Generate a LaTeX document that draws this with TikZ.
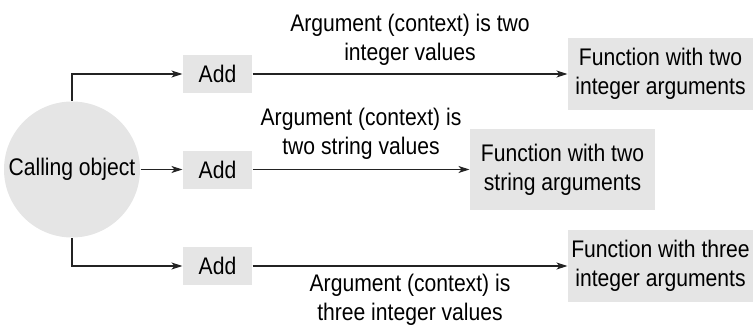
\documentclass[tikz,border=0pt]{standalone}
\usepackage{fontspec}
\setmainfont{Liberation Sans}[FakeStretch=0.88]
\usepackage{tikz}
\usetikzlibrary{arrows.meta,positioning}

\definecolor{boxgray}{RGB}{229,229,229}
\definecolor{linegray}{RGB}{35,35,35}

\tikzset{
  addbox/.style={fill=boxgray, minimum width=69pt, minimum height=38pt, inner sep=0pt},
  funbox/.style={fill=boxgray, minimum width=185pt, inner sep=0pt, align=center},
  lbl/.style={align=center, inner sep=0pt}
}

\begin{document}
\begin{tikzpicture}[x=1pt, y=-1pt, >={Stealth[length=11pt,width=7pt,inset=3pt]},
  line width=1.1pt, draw=linegray, font=\fontsize{24}{29}\selectfont]
 \useasboundingbox (0,0) rectangle (754,326);

 \node (call) [circle, fill=boxgray, minimum size=136pt, inner sep=0pt] at (72,169.5) {Calling object};
 \node (add1) [addbox] at (217.5,74) {Add};
 \node (add2) [addbox] at (217.5,169.5) {Add};
 \node (add3) [addbox] at (217.5,266) {Add};
 \node (fun1) [funbox, minimum height=72pt] at (660.5,74) {Function with two\\integer arguments};
 \node (fun2) [funbox, minimum height=81pt] at (562.5,169.5) {Function with two\\string arguments};
 \node (fun3) [funbox, minimum height=72pt] at (660.5,266) {Function with three\\integer arguments};

 \draw[->] (call.north) |- (add1.west);
 \draw[->] (call) -- (add2);
 \draw[->] (call.south) |- (add3.west);

 \path[->]
  (add1) edge node [lbl, above=8pt] {Argument (context) is two\\integer values} (fun1)
  (add2) edge node [lbl, above=9pt] {Argument (context) is\\two string values} (fun2)
  (add3) edge node [lbl, below=8pt] {Argument (context) is\\three integer values} (fun3)
;
\end{tikzpicture}
\end{document}
